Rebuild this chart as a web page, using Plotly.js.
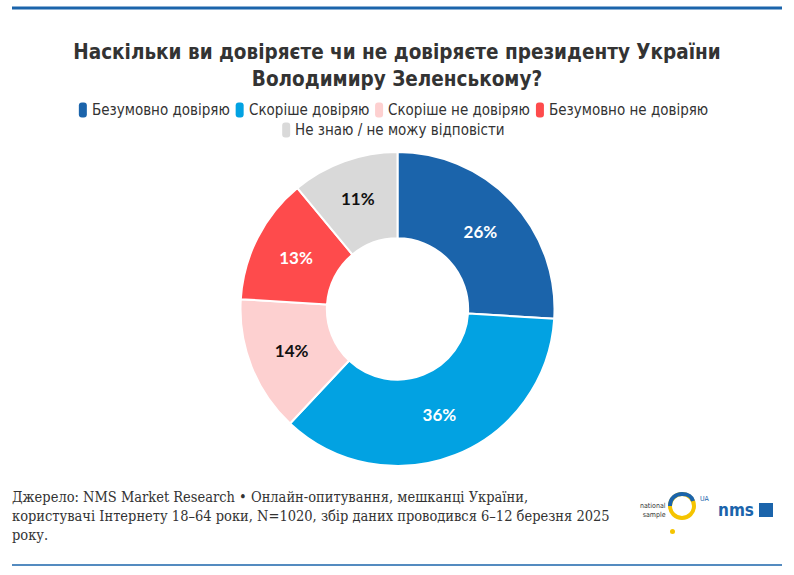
<!DOCTYPE html>
<html>
<head>
<meta charset="utf-8">
<script src="https://cdn.plot.ly/plotly-3.0.1.min.js"></script>
<style>
  html, body { margin: 0; padding: 0; background: #fff; }
  #chart { width: 794px; height: 575px; }
</style>
</head>
<body>
<div id="chart"></div>
<script>
const W = 794, H = 575;

// chart data
const categories = ['Безумовно довіряю', 'Скоріше довіряю', 'Скоріше не довіряю', 'Безумовно не довіряю', 'Не знаю / не можу відповісти'];
const values = [26, 36, 14, 13, 11];
const sliceColors = ['#1b64ab', '#02a2e2', '#fdd0d0', '#fe4b4c', '#d9d9d9'];
const labelColors = ['#ffffff', '#ffffff', '#111111', '#ffffff', '#111111'];
const legendRows = [[0, 1, 2, 3], [4]];

const titleText = 'Наскільки ви довіряєте чи не довіряєте президенту України<br>Володимиру Зеленському?';
const sourceText = 'Джерело: NMS Market Research • Онлайн-опитування, мешканці України,<br>' +
    'користувачі Інтернету 18–64 роки, N=1020, збір даних проводився 6–12 березня 2025<br>року.';

// pixel -> paper helpers (margins are zero, so paper == page)
const px = (x) => x / W;
const py = (y) => 1 - y / H;

const condensedName = 'DejaVu Sans Condensed';
const condensed = "'DejaVu Sans Condensed', 'Liberation Sans Narrow', 'Noto Sans', sans-serif";
const serif = "'DejaVu Serif Condensed', 'Liberation Serif', serif";
const blue = '#1b64ab';

const roundedRect = (x, y, w, h, r) => {
    const p = (a, b) => `${px(a)} ${py(b)}`;
    return `M ${p(x + r, y)} L ${p(x + w - r, y)} Q ${p(x + w, y)} ${p(x + w, y + r)} ` +
        `L ${p(x + w, y + h - r)} Q ${p(x + w, y + h)} ${p(x + w - r, y + h)} ` +
        `L ${p(x + r, y + h)} Q ${p(x, y + h)} ${p(x, y + h - r)} ` +
        `L ${p(x, y + r)} Q ${p(x, y)} ${p(x + r, y)} Z`;
};

// custom legend: measure texts so rows can be centred like the original
const legendFontSize = 15;
const ctx = document.createElement('canvas').getContext('2d');
ctx.font = `${legendFontSize}px '${condensedName}'`;
const markW = 8, markH = 15, markGap = 4, itemGap = 7;
const legendShapes = [], legendAnns = [];
legendRows.forEach((row, ri) => {
    const cy = 110 + ri * 20;
    const widths = row.map((i) => ctx.measureText(categories[i]).width);
    const total = widths.reduce((a, w) => a + markW + markGap + w, 0) + itemGap * (row.length - 1);
    let x = W / 2 - total / 2 - 4;
    row.forEach((i, k) => {
        legendShapes.push({
            type: 'path', xref: 'paper', yref: 'paper',
            path: roundedRect(x, cy - markH / 2, markW, markH, 3),
            fillcolor: sliceColors[i], line: { width: 0 },
        });
        legendAnns.push({
            text: categories[i], xref: 'paper', yref: 'paper',
            x: px(x + markW + markGap - 1), y: py(cy), xanchor: 'left', yanchor: 'middle', showarrow: false,
            font: { family: condensed, size: legendFontSize, color: '#333333' },
        });
        x += markW + markGap + widths[k] + itemGap;
    });
});

const trace = {
    type: 'pie',
    labels: categories,
    values: values,
    hole: 0.45,
    sort: false,
    direction: 'clockwise',
    rotation: 0,
    marker: {
        colors: sliceColors,
        line: { color: '#ffffff', width: 2 },
    },
    texttemplate: '%{value}%',
    textposition: 'inside',
    insidetextorientation: 'horizontal',
    textfont: { family: 'Lato, sans-serif', size: 17, color: labelColors, weight: 'bold' },
    hoverinfo: 'label+value',
    domain: { x: [px(240), px(555)], y: [py(466), py(152)] },
};

const layout = {
    width: W,
    height: H,
    margin: { l: 0, r: 0, t: 0, b: 0 },
    paper_bgcolor: '#ffffff',
    title: {
        text: titleText,
        x: 0.5,
        xanchor: 'center',
        y: py(59),
        yanchor: 'middle',
        font: { family: condensed, size: 20.5, color: '#333333', weight: 'bold' },
    },
    showlegend: false,
    shapes: [
        // top and bottom rules
        { type: 'line', xref: 'paper', yref: 'paper', x0: px(12), x1: px(782), y0: py(8), y1: py(8),
          line: { color: blue, width: 3 } },
        { type: 'line', xref: 'paper', yref: 'paper', x0: px(12), x1: px(782), y0: py(565), y1: py(565),
          line: { color: blue, width: 1.5 } },
        // national sample logo: ring + dot
        { type: 'circle', xref: 'paper', yref: 'paper', x0: px(670), x1: px(694), y0: py(518), y1: py(494),
          line: { color: '#f5c400', width: 4 } },
        { type: 'path', xref: 'paper', yref: 'paper',
          path: `M ${px(670)} ${py(506)} C ${px(670)} ${py(498)}, ${px(676)} ${py(494)}, ${px(682)} ${py(494)} C ${px(688)} ${py(494)}, ${px(692)} ${py(497)}, ${px(693)} ${py(501)}`,
          line: { color: blue, width: 4 } },
        { type: 'circle', xref: 'paper', yref: 'paper', x0: px(670), x1: px(675), y0: py(534), y1: py(529),
          fillcolor: '#f5c400', line: { width: 0 } },
        // nms square
        { type: 'rect', xref: 'paper', yref: 'paper', x0: px(759), x1: px(773), y0: py(517), y1: py(503),
          fillcolor: blue, line: { width: 0 } },
        ...legendShapes,
    ],
    annotations: [
        {
            text: sourceText, xref: 'paper', yref: 'paper',
            x: px(10), y: py(487), xanchor: 'left', yanchor: 'top', align: 'left', showarrow: false,
            font: { family: serif, size: 14.5, color: '#333333' },
        },
        {
            text: 'national<br>sample', xref: 'paper', yref: 'paper',
            x: px(668), y: py(510), xanchor: 'right', yanchor: 'middle', align: 'right', showarrow: false,
            font: { family: condensed, size: 7, color: '#333333' },
        },
        {
            text: 'UA', xref: 'paper', yref: 'paper',
            x: px(698), y: py(499), xanchor: 'left', yanchor: 'middle', showarrow: false,
            font: { family: condensed, size: 7, color: blue },
        },
        {
            text: '<b>nms</b>', xref: 'paper', yref: 'paper',
            x: px(716), y: py(510), xanchor: 'left', yanchor: 'middle', showarrow: false,
            font: { family: condensed, size: 17, color: blue },
        },
        ...legendAnns,
    ],
};

Plotly.newPlot('chart', [trace], layout, { displayModeBar: false, responsive: false });
</script>
</body>
</html>
